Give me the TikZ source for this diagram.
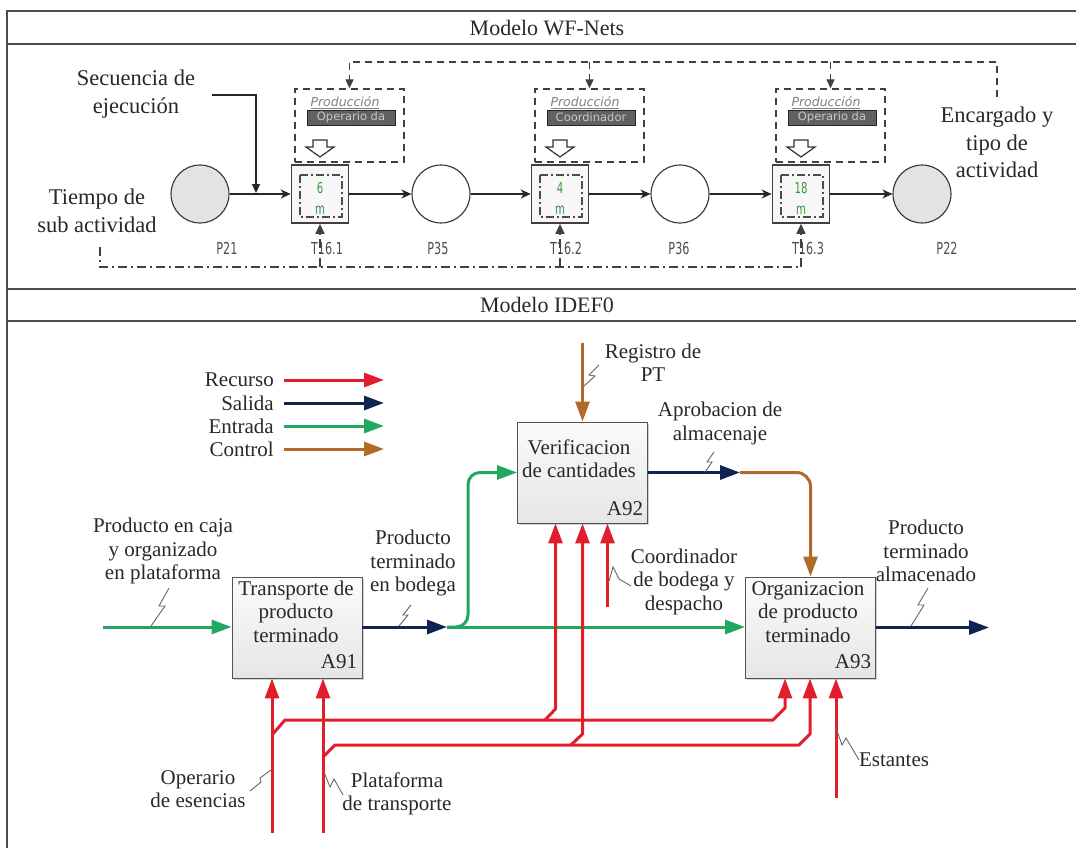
\documentclass[tikz,border=0pt]{standalone}
\usepackage{fontspec}
\setmainfont{Liberation Serif}
\newfontfamily\petrifont{DejaVu Sans}
\newfontfamily\pnlabelfont{DejaVu Sans}[FakeStretch=0.68]
\usetikzlibrary{arrows.meta,calc,shadows}
\definecolor{recurso}{RGB}{226,30,44}
\definecolor{salida}{RGB}{14,36,82}
\definecolor{entrada}{RGB}{32,168,98}
\definecolor{control}{RGB}{178,106,40}
\definecolor{tgreen}{RGB}{60,150,60}
\definecolor{ink}{RGB}{40,40,40}
\newcommand\hollowdown[1]{%
  \draw[hollow] (#1-7,140) -- (#1+7,140) -- (#1+7,147) -- (#1+14,147) -- (#1,157) -- (#1-14,147) -- (#1-7,147) -- cycle;}
\begin{document}
\begin{tikzpicture}[x=1pt,y=-1pt,
  frm/.style={draw=gray!60!black,line width=1.8pt},
  hdr/.style={font=\fontsize{22}{26}\selectfont,text=ink,inner sep=0pt},
  note/.style={align=center,font=\fontsize{22.5}{27.5}\selectfont,text=ink,inner sep=0pt},
  place/.style={circle,draw=black!80,line width=1.1pt,minimum size=58pt,inner sep=0pt},
  trans/.style={rectangle,draw=black!75,line width=1.6pt,fill=gray!6,minimum width=57pt,minimum height=58pt,inner sep=0pt},
  pnlbl/.style={font=\pnlabelfont\fontsize{16.5}{18}\selectfont,text=black!70,inner sep=0pt},
  pn/.style={draw=black!85,line width=1.2pt,-{Stealth[length=10pt,width=9pt,inset=3pt]}},
  dline/.style={draw=black!75,line width=1.3pt,dash pattern=on 7pt off 5pt},
  ddline/.style={draw=black!75,line width=1.3pt,dash pattern=on 9pt off 4pt on 2pt off 4pt},
  inbox/.style={draw=black!70,line width=1.2pt,dash pattern=on 8pt off 3pt on 2pt off 3pt},
  dbox/.style={rectangle,draw=black!75,line width=1.3pt,dash pattern=on 7pt off 5pt,minimum width=109pt,minimum height=73pt,inner sep=0pt},
  bar/.style={rectangle,draw=black!85,fill=black!62,text=black!22,font=\petrifont\fontsize{11.5}{13}\selectfont,minimum width=88pt,minimum height=15pt,inner sep=0pt},
  role/.style={font=\petrifont\itshape\fontsize{12.5}{14}\selectfont,text=black!50,inner sep=0pt},
  tnum/.style={font=\pnlabelfont\fontsize{15}{16}\selectfont,text=tgreen,inner sep=0pt},
  hollow/.style={draw=black!80,line width=1.2pt,fill=white,line join=miter},
  smalltip/.style={-{Triangle[length=9pt,width=8pt]}},
  idef/.style={rectangle,draw=gray!65!black,line width=0.9pt,top color=gray!3,bottom color=gray!20,minimum width=130pt,minimum height=101pt,inner sep=0pt,drop shadow={shadow xshift=1.5pt,shadow yshift=-1.5pt,opacity=0.35}},
  btxt/.style={align=center,font=\fontsize{21}{23.5}\selectfont,text=ink,inner sep=0pt},
  arr/.style={line width=3pt,line join=round,-{Triangle[length=20pt,width=14pt]}},
  recA/.style={arr,draw=recurso},
  salA/.style={arr,draw=salida},
  entA/.style={arr,draw=entrada},
  ctlA/.style={arr,draw=control},
  sq/.style={draw=black!60,line width=0.9pt,line join=miter}
]
\useasboundingbox (0,0) rectangle (1076,848);

% ---------- frame and section headers ----------
\draw[frm] (7,848) -- (7,11) -- (1076,11);
\draw[frm] (7,44) -- (1076,44);
\draw[frm] (7,289) -- (1076,289);
\draw[frm] (7,321) -- (1076,321);
\node[hdr] (hwf) at (547,28) {Modelo WF-Nets};
\node[hdr] (hid) at (547,305) {Modelo IDEF0};

% ---------- WF-net: places and transitions ----------
\node[place,fill=gray!22] (P21) at (200,194) {};
\node[trans] (T161) at (320,194) {};
\node[place,fill=white] (P35) at (441,194) {};
\node[trans] (T162) at (560,194) {};
\node[place,fill=white] (P36) at (680,194) {};
\node[trans] (T163) at (801,194) {};
\node[place,fill=gray!22] (P22) at (922,194) {};

% inner time boxes of the transitions
\draw[inbox] ($(T161.center)+(-20,-19)$) rectangle ($(T161.center)+(22,23)$);
\draw[inbox] ($(T162.center)+(-20,-19)$) rectangle ($(T162.center)+(22,23)$);
\draw[inbox] ($(T163.center)+(-20,-19)$) rectangle ($(T163.center)+(22,23)$);
\node[tnum] (T161n) at ($(T161.center)+(0,-6)$) {6};
\node[tnum] (T161m) at ($(T161.center)+(0,16)$) {m};
\node[tnum] (T162n) at ($(T162.center)+(0,-6)$) {4};
\node[tnum] (T162m) at ($(T162.center)+(0,16)$) {m};
\node[tnum] (T163n) at ($(T163.center)+(0,-6)$) {18};
\node[tnum] (T163m) at ($(T163.center)+(0,16)$) {m};

% labels under the net
\node[pnlbl] (lP21) at (227,248) {P21};
\node[pnlbl] (lT161) at (327,248) {T16.1};
\node[pnlbl] (lP35) at (438,248) {P35};
\node[pnlbl] (lT162) at (566,248) {T16.2};
\node[pnlbl] (lP36) at (679,248) {P36};
\node[pnlbl] (lT163) at (808,248) {T16.3};
\node[pnlbl] (lP22) at (947,248) {P22};

% flow arcs
\draw[pn] (P21) -- (T161);
\draw[pn] (T161) -- (P35);
\draw[pn] (P35) -- (T162);
\draw[pn] (T162) -- (P36);
\draw[pn] (P36) -- (T163);
\draw[pn] (T163) -- (P22);

% role boxes above the transitions
\node[dbox] (D1) at (349.5,125.5) {};
\node[dbox] (D2) at (589.5,125.5) {};
\node[dbox] (D3) at (830.5,125.5) {};
\node[role] (R1) at (345,103) {\underline{Producción}};
\node[role] (R2) at (585,103) {\underline{Producción}};
\node[role] (R3) at (826,103) {\underline{Producción}};
\node[bar] (B1) at (351,117.5) {Operario da};
\node[bar] (B2) at (591,117.5) {Coordinador};
\node[bar] (B3) at (832,117.5) {Operario da};
\hollowdown{320}
\hollowdown{560}
\hollowdown{801}

% annotations of the WF-net
\node[note] (seq) at (136,94) {Secuencia de\\ejecución};
\coordinate (seqA) at (212,95);
\coordinate (seqB) at (256,193);
\draw[draw=black!85,line width=1.2pt,smalltip] (seqA) -| (seqB);

\node[note] (tmp) at (97,211) {Tiempo de\\sub actividad};
\coordinate (tmA) at (100,247);
\coordinate (tmB) at (801,267);
\draw[ddline] (tmA) |- (tmB);
\draw[ddline,-{Triangle[length=10pt,width=9pt]}] (T161.south |- tmB) -- (T161.south);
\draw[ddline,-{Triangle[length=10pt,width=9pt]}] (T162.south |- tmB) -- (T162.south);
\draw[ddline,-{Triangle[length=10pt,width=9pt]}] (T163.south |- tmB) -- (T163.south);

\node[note] (enc) at (997,142.5) {Encargado y\\tipo de\\actividad};
\coordinate (encA) at (997,97);
\coordinate (topy) at (0,62);
\draw[dline,smalltip] (encA) |- (D1.north |- topy) -- (D1.north);
\draw[dline,smalltip] (D2.north |- topy) -- (D2.north);
\draw[dline,smalltip] (D3.north |- topy) -- (D3.north);

% ---------- IDEF0: legend ----------
\node[btxt,anchor=east] (lgR) at (274,380) {Recurso};
\node[btxt,anchor=east] (lgS) at (274,403) {Salida};
\node[btxt,anchor=east] (lgE) at (274,426) {Entrada};
\node[btxt,anchor=east] (lgC) at (274,449) {Control};
\coordinate (lgRs) at (284,380); \coordinate (lgRe) at (384,380);
\coordinate (lgSs) at (284,403); \coordinate (lgSe) at (384,403);
\coordinate (lgEs) at (284,426); \coordinate (lgEe) at (384,426);
\coordinate (lgCs) at (284,449); \coordinate (lgCe) at (384,449);
\draw[recA] (lgRs) -- (lgRe);
\draw[salA] (lgSs) -- (lgSe);
\draw[entA] (lgEs) -- (lgEe);
\draw[ctlA] (lgCs) -- (lgCe);

% ---------- IDEF0: activities ----------
\node[idef] (A91) at (297,627.5) {};
\node[btxt] (A91t) at (296,611.5) {Transporte de\\producto\\terminado};
\node[btxt] (A91n) at (339,662) {A91};
\node[idef] (A92) at (582.5,472.5) {};
\node[btxt] (A92t) at (579,458.5) {Verificacion\\de cantidades};
\node[btxt] (A92n) at (625,509) {A92};
\node[idef] (A93) at (810.5,627.5) {};
\node[btxt] (A93t) at (808,612) {Organizacion\\de producto\\terminado};
\node[btxt] (A93n) at (853,662) {A93};

% ---------- IDEF0: inputs, outputs, controls ----------
\coordinate (in1) at (103,627);
\draw[entA] (in1) -- (in1 -| A91.west);
\coordinate (bod) at (447,627);
\draw[salA] (A91.east |- bod) -- (bod);
\draw[entA] (bod) -- (bod -| A93.west);
\coordinate (gbx) at (468,0);
\draw[entA,rounded corners=12pt] (bod) -| (gbx |- A92.west) -- (A92.west);
\coordinate (apr) at (740,472.5);
\draw[salA] (A92.east) -- (apr);
\draw[ctlA,rounded corners=14pt] (apr) -| (A93.north);
\coordinate (reg) at (582.5,343);
\draw[ctlA] (reg) -- (A92.north);
\coordinate (out3) at (989,627.5);
\draw[salA] (A93.east) -- (out3);

% ---------- IDEF0: resources ----------
\coordinate (opB) at (272,833);
\coordinate (plB) at (323,833);
\coordinate (coB) at (607.5,607);
\coordinate (esB) at (836,798);
\coordinate (a92r1) at ($(A92.south)+(-27,0)$);
\coordinate (a92r2) at (A92.south);
\coordinate (a92r3) at ($(A92.south)+(25,0)$);
\coordinate (a93r1) at ($(A93.south)+(-25.5,0)$);
\coordinate (a93r2) at ($(A93.south)+(-0.5,0)$);
\coordinate (a93r3) at ($(A93.south)+(25.5,0)$);
\draw[recA] (opB) -- (opB |- A91.south);
\draw[recA] (plB) -- (plB |- A91.south);
\draw[recA] (272,735) -- (285,720) -- (773,720) -- (785,708) -- (a93r1);
\draw[recA] (545,720) -- (555.5,709) -- (a92r1);
\draw[recA] (323,757) -- (335,745) -- (799,745) -- (810,734) -- (a93r2);
\draw[recA] (571,745) -- (582.5,734) -- (a92r2);
\draw[recA] (coB) -- (a92r3);
\draw[recA] (esB) -- (a93r3);

% ---------- IDEF0: arrow labels and squiggles ----------
\node[btxt] (lbIn) at (163,551) {Producto en caja\\y organizado\\en plataforma};
\node[btxt] (lbBod) at (413,563) {Producto\\terminado\\en bodega};
\node[btxt] (lbReg) at (653,362.5) {Registro de\\PT};
\node[btxt] (lbApr) at (720,423.5) {Aprobacion de\\almacenaje};
\node[btxt] (lbCoo) at (684,581.5) {Coordinador\\de bodega y\\despacho};
\node[btxt] (lbOut) at (926,551) {Producto\\terminado\\almacenado};
\node[btxt] (lbOp) at (198,789) {Operario\\de esencias};
\node[btxt] (lbPl) at (397,794) {Plataforma\\de transporte};
\node[btxt] (lbEs) at (894,760) {Estantes};

\draw[sq] (169,588) -- (159,606) -- (165,606) -- (151,626);
\draw[sq] (411,605) -- (403,615) -- (408,615) -- (399,626);
\draw[sq] (714,452) -- (707,462) -- (712,462) -- (705,472);
\draw[sq] (599,365) -- (589,375) -- (595,376) -- (584,386);
\draw[sq] (609,581) -- (613,567) -- (619,579) -- (631,586);
\draw[sq] (928,588) -- (918,605) -- (924,605) -- (911,626);
\draw[sq] (250,791) -- (261,782) -- (260,778) -- (271,770);
\draw[sq] (324,772) -- (330,787) -- (334,779) -- (343,795);
\draw[sq] (836,728) -- (842,745) -- (846,738) -- (859,760);
\end{tikzpicture}
\end{document}
